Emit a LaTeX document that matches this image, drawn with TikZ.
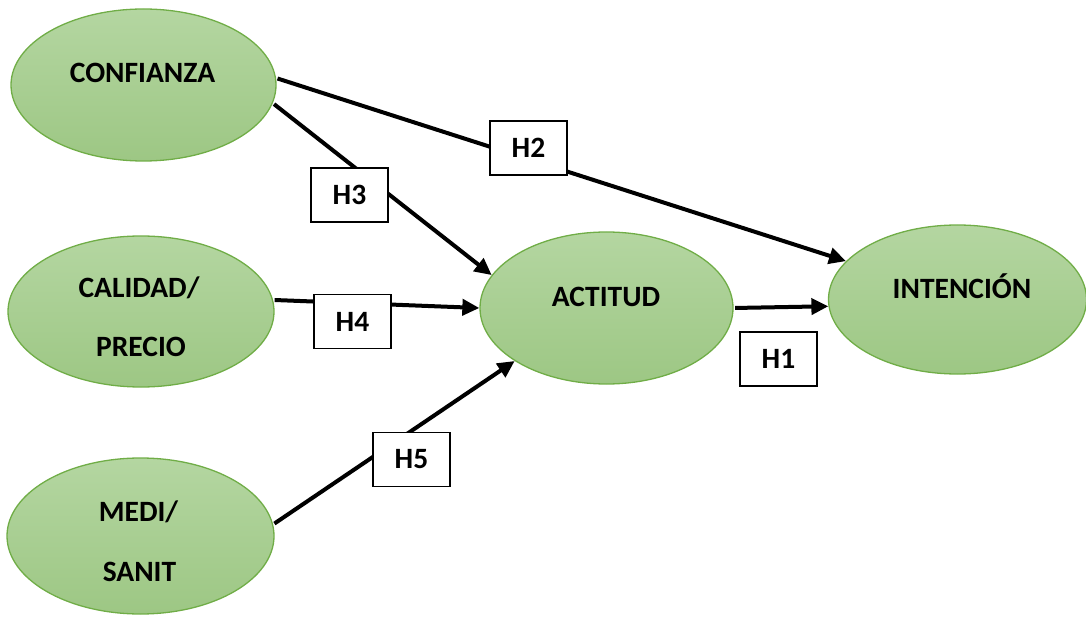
\documentclass[tikz,border=0pt]{standalone}
\usepackage{fontspec}
\setmainfont{Carlito}
\usetikzlibrary{shapes.geometric,arrows.meta}
\definecolor{ellborder}{HTML}{70AD47}
\definecolor{elltop}{HTML}{B4D6A1}
\definecolor{ellbot}{HTML}{9DC784}
\tikzset{
  ell/.style={ellipse, draw=ellborder, line width=1.3pt, top color=elltop, bottom color=ellbot, inner sep=0pt},
  lbl/.style={anchor=base, font=\fontsize{29.5}{34}\selectfont\bfseries, inner sep=0pt},
  hbox/.style={draw=black, line width=1.7pt, fill=white, minimum width=77pt, minimum height=54pt, inner sep=0pt, font=\fontsize{29.5}{34}\selectfont\bfseries},
  conn/.style={line width=4pt, -{Triangle[length=17pt,width=16pt]}, shorten <=1.5pt}
}
\begin{document}
\begin{tikzpicture}[x=1pt,y=-1pt]
\useasboundingbox (0,0) rectangle (1086,620);
% ellipses
\node[ell, minimum width=265pt, minimum height=152pt] (conf) at (143.5,85) {};
\node[ell, minimum width=266pt, minimum height=151pt] (cal) at (141,311.5) {};
\node[ell, minimum width=267pt, minimum height=156pt] (medi) at (140.5,536) {};
\node[ell, minimum width=253pt, minimum height=152pt] (act) at (606.5,308) {};
\node[ell, minimum width=258pt, minimum height=149pt] (int) at (957.5,299.5) {};
% labels
\node[lbl] (confT) at (142.5,83) {CONFIANZA};
\node[lbl] (calT1) at (139,297) {CALIDAD/};
\node[lbl] (calT2) at (141,356) {PRECIO};
\node[lbl] (mediT1) at (138.5,521) {MEDI/};
\node[lbl] (mediT2) at (139.5,581) {SANIT};
\node[lbl] (actT) at (606,306) {ACTITUD};
\node[lbl] (intT) at (962,298) {INTENCIÓN};
% connectors
\draw[conn] (conf.3) -- (int.161.3);
\draw[conn] (conf.-8.3) -- (act.164.2);
\draw[conn] (cal.5.4) -- (act.180.5);
\draw[conn] (medi.5.5) -- (act.210);
\draw[conn] (act.-0.9) -- (int.183.8);
% hypothesis boxes
\node[hbox] (h2) at (528.5,148) {H2};
\node[hbox] (h3) at (349.5,195) {H3};
\node[hbox] (h4) at (352.5,321.5) {H4};
\node[hbox] (h1) at (778.5,359) {H1};
\node[hbox] (h5) at (411.5,459.5) {H5};
\end{tikzpicture}
\end{document}
